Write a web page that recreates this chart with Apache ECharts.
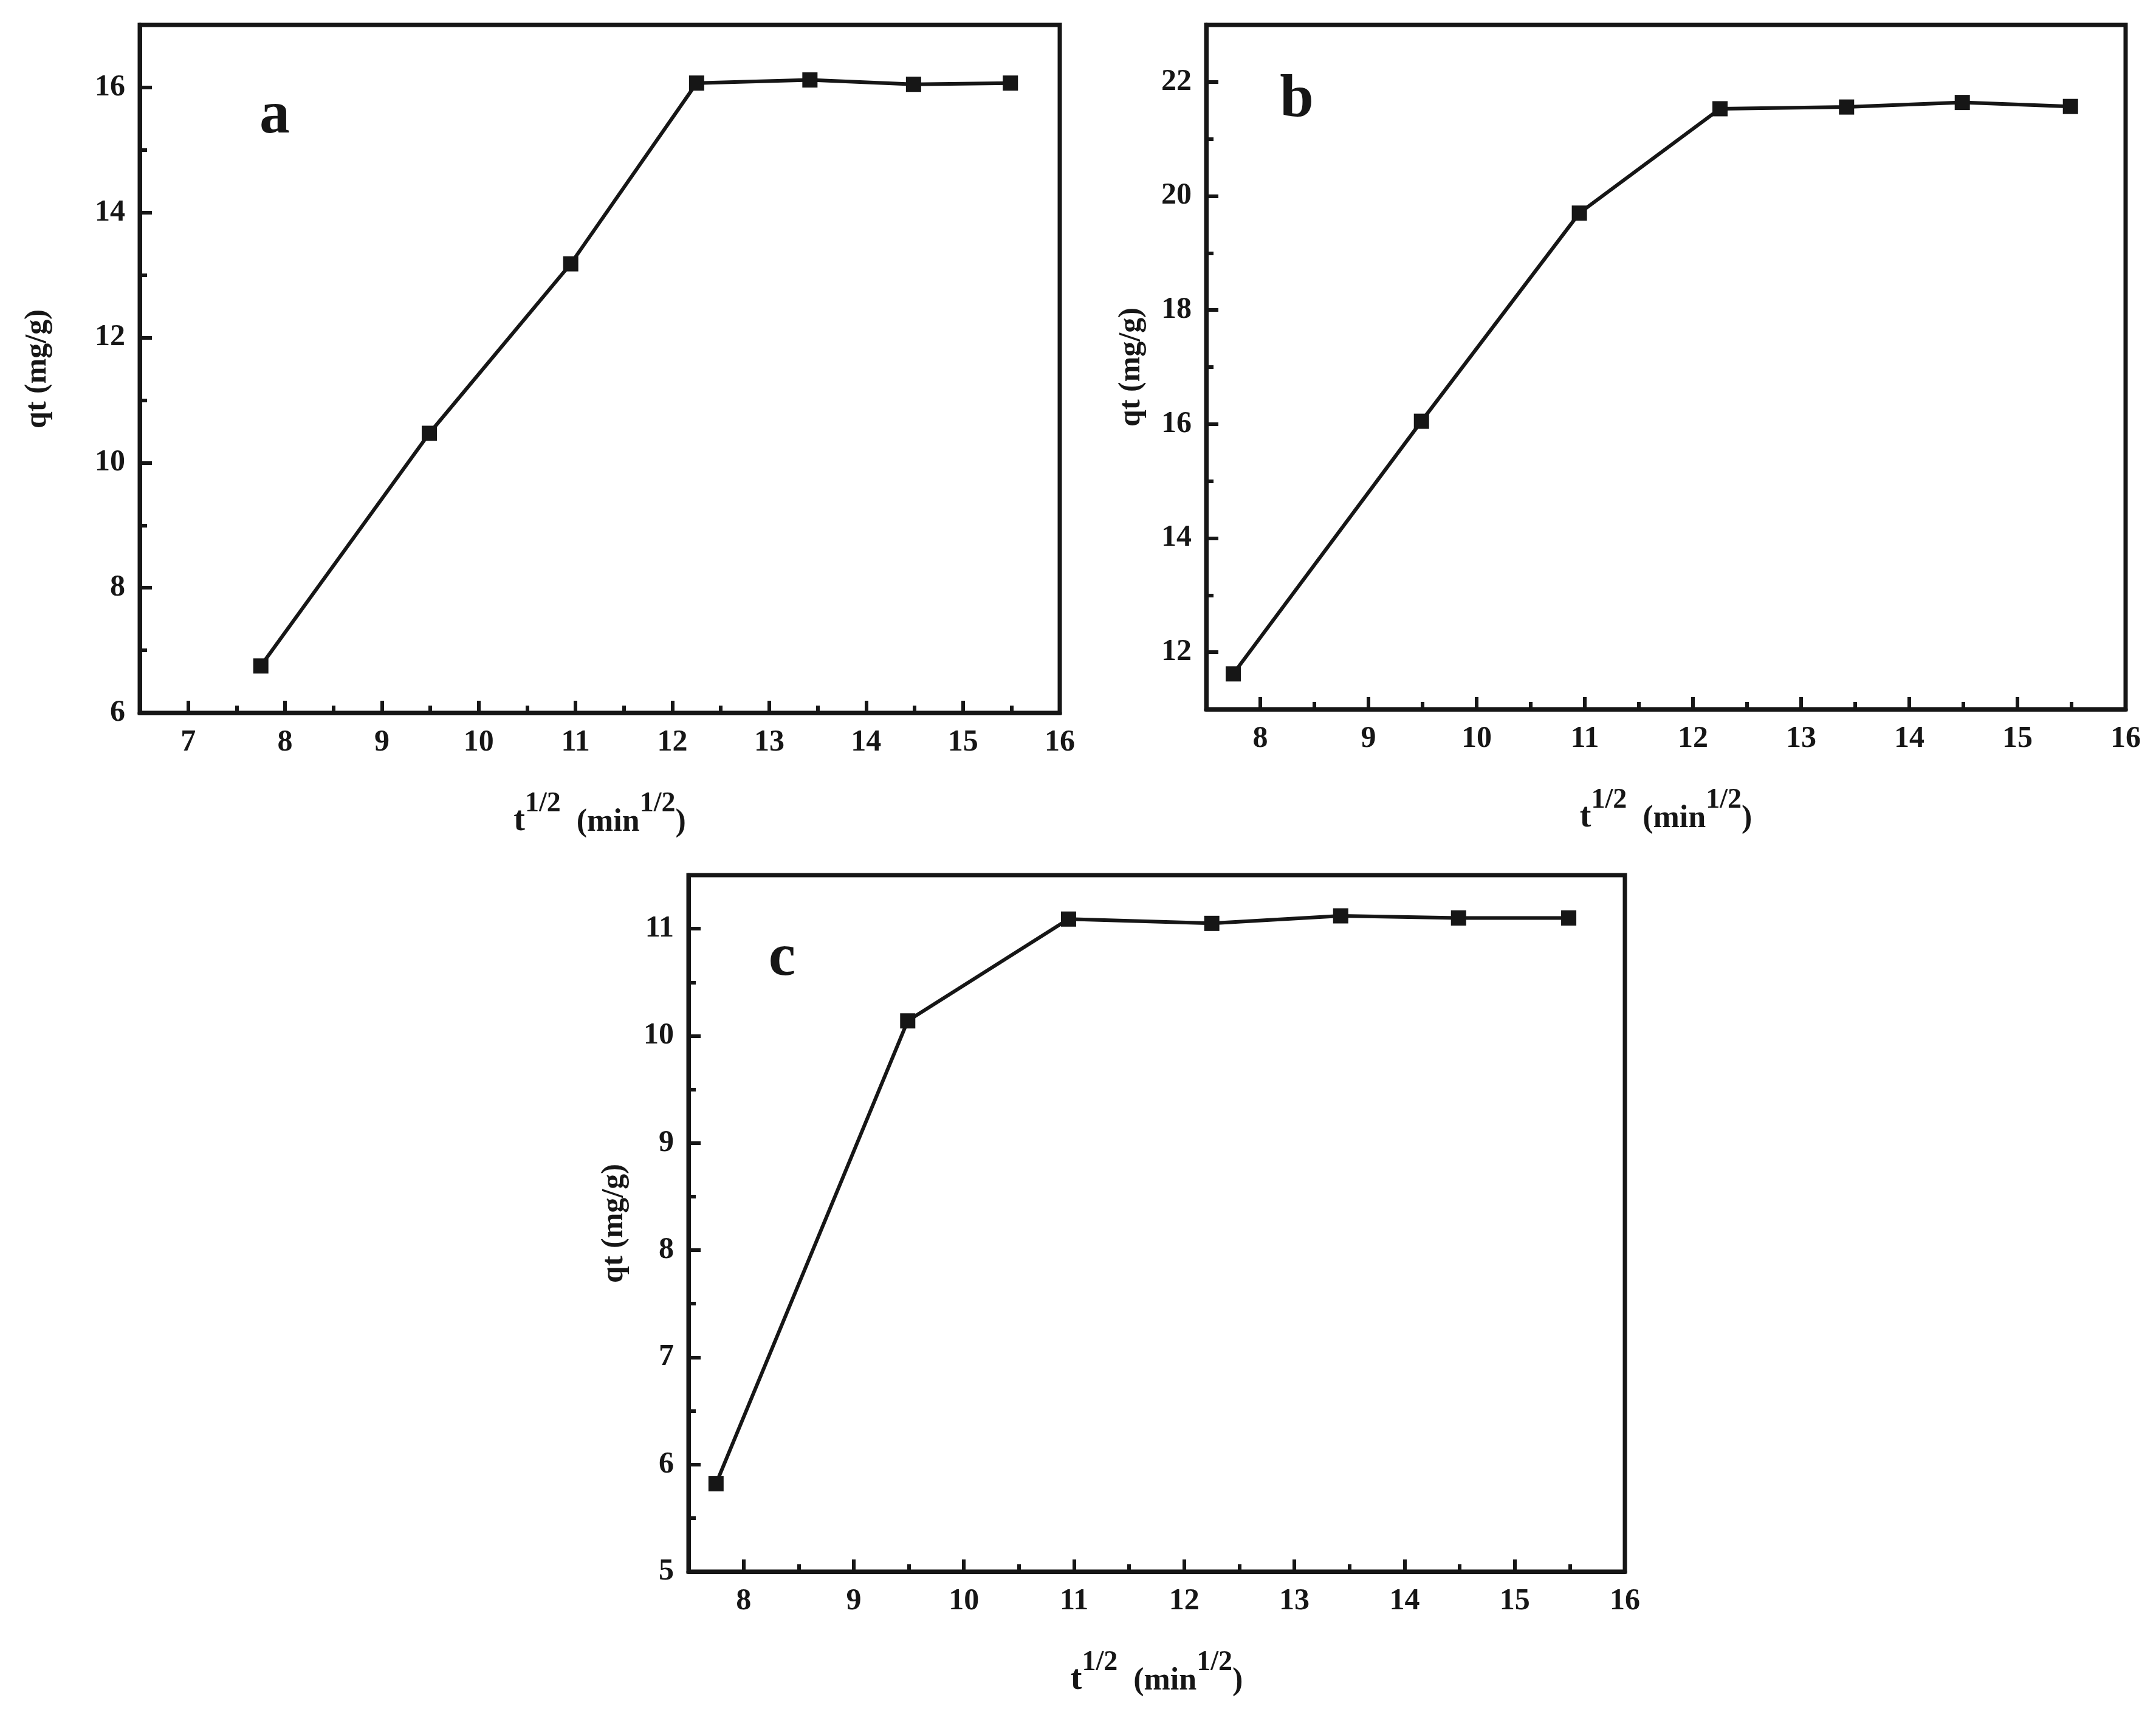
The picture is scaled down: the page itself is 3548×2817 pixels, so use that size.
<!DOCTYPE html>
<html>
<head>
<meta charset="utf-8">
<script src="https://cdn.jsdelivr.net/npm/echarts@6/dist/echarts.min.js"></script>
<style>
  html, body { margin: 0; padding: 0; background: #fff; }
  #chart { width: 3548px; height: 2817px; }
</style>
</head>
<body>
<div id="chart"></div>
<script>
// t^1/2 (min^1/2) for every panel
const tHalf = [7.75, 9.49, 10.95, 12.25, 13.42, 14.49, 15.49]

// qt (mg/g)
const qtA = [6.75, 10.47, 13.18, 16.07, 16.12, 16.05, 16.07]
const qtB = [11.62, 16.05, 19.70, 21.53, 21.56, 21.64, 21.57]
const qtC = [5.82, 10.14, 11.09, 11.05, 11.12, 11.10, 11.10]

// tick values
const xMajorA = [7, 8, 9, 10, 11, 12, 13, 14, 15, 16]
const xMinorA = [7.5, 8.5, 9.5, 10.5, 11.5, 12.5, 13.5, 14.5, 15.5]
const xMajorBC = [8, 9, 10, 11, 12, 13, 14, 15, 16]
const xMinorBC = [8.5, 9.5, 10.5, 11.5, 12.5, 13.5, 14.5, 15.5]
const yMajorA = [6, 8, 10, 12, 14, 16]
const yMinorA = [7, 9, 11, 13, 15]
const yMajorB = [12, 14, 16, 18, 20, 22]
const yMinorB = [13, 15, 17, 19, 21]
const yMajorC = [5, 6, 7, 8, 9, 10, 11]
const yMinorC = [5.5, 6.5, 7.5, 8.5, 9.5, 10.5]

const INK = '#161616'
const FONT = '"Liberation Serif", "Times New Roman", serif'

const chart = echarts.init(document.getElementById('chart'))

function makeGrid(left, top, width, height) {
  return {
    left, top, width, height,
    show: true,
    borderColor: INK,
    borderWidth: 7,
    backgroundColor: 'transparent',
  }
}

function mainAxis(dim, gridIndex, min, max, ticks, nameGap, name) {
  const isX = dim === 'x'
  return {
    type: 'value',
    gridIndex,
    position: isX ? 'bottom' : 'left',
    min, max,
    name,
    nameLocation: 'middle',
    nameGap,
    nameRotate: isX ? 0 : 90,
    nameTextStyle: isX ? {
      rich: {
        t: { fontFamily: FONT, fontWeight: 'bold', fontSize: 56, color: INK, verticalAlign: 'bottom' },
        m: { fontFamily: FONT, fontWeight: 'bold', fontSize: 52, color: INK, verticalAlign: 'bottom' },
        s: { fontFamily: FONT, fontWeight: 'bold', fontSize: 46, color: INK, verticalAlign: 'bottom', padding: [0, 0, 34, 0] },
      },
    } : {
      fontFamily: FONT, fontWeight: 'bold', fontSize: 50, color: INK,
    },
    splitLine: { show: false },
    axisLine: { show: true, onZero: false, lineStyle: { color: INK, width: 7 } },
    axisTick: { show: true, inside: true, length: 20, customValues: ticks, lineStyle: { color: INK, width: 6 } },
    axisLabel: {
      show: true, customValues: ticks, margin: 24,
      fontFamily: FONT, fontWeight: 'bold', fontSize: 50, color: INK,
    },
  }
}

function minorAxis(dim, gridIndex, min, max, ticks) {
  return {
    type: 'value',
    gridIndex,
    position: dim === 'x' ? 'bottom' : 'left',
    min, max,
    splitLine: { show: false },
    axisLine: { show: false, onZero: false },
    axisLabel: { show: false },
    axisTick: { show: true, inside: true, length: 12, customValues: ticks, lineStyle: { color: INK, width: 6 } },
  }
}

const xName = '{t|t}{s|1/2}{m|  (min}{s|1/2}{m|)}'
const yName = 'qt (mg/g)'

function lineSeries(xAxisIndex, yAxisIndex, ys) {
  return {
    type: 'line',
    xAxisIndex, yAxisIndex,
    data: tHalf.map((x, i) => [x, ys[i]]),
    symbol: 'rect',
    symbolSize: 25,
    lineStyle: { color: INK, width: 6 },
    itemStyle: { color: INK },
    z: 3,
  }
}

function panelLetter(text, x, y) {
  return {
    type: 'text',
    x, y,
    style: {
      text,
      fontFamily: FONT, fontWeight: 'bold', fontSize: 100,
      fill: INK, align: 'center', verticalAlign: 'middle',
    },
  }
}

const option = {
  backgroundColor: '#ffffff',
  animation: false,
  grid: [
    makeGrid(230, 41, 1514, 1132),
    makeGrid(1985, 41, 1513, 1126),
    makeGrid(1133, 1440, 1541, 1146),
  ],
  xAxis: [
    mainAxis('x', 0, 6.5, 16, xMajorA, 127, xName),
    mainAxis('x', 1, 7.5, 16, xMajorBC, 127, xName),
    mainAxis('x', 2, 7.5, 16, xMajorBC, 127, xName),
    minorAxis('x', 0, 6.5, 16, xMinorA),
    minorAxis('x', 1, 7.5, 16, xMinorBC),
    minorAxis('x', 2, 7.5, 16, xMinorBC),
  ],
  yAxis: [
    mainAxis('y', 0, 6, 17, yMajorA, 143, yName),
    mainAxis('y', 1, 11, 23, yMajorB, 98, yName),
    mainAxis('y', 2, 5, 11.5, yMajorC, 97, yName),
    minorAxis('y', 0, 6, 17, yMinorA),
    minorAxis('y', 1, 11, 23, yMinorB),
    minorAxis('y', 2, 5, 11.5, yMinorC),
  ],
  series: [
    lineSeries(0, 0, qtA),
    lineSeries(1, 1, qtB),
    lineSeries(2, 2, qtC),
  ],
  graphic: [
    panelLetter('a', 452, 192),
    panelLetter('b', 2134, 165),
    panelLetter('c', 1287, 1578),
  ],
}

chart.setOption(option)
</script>
</body>
</html>
